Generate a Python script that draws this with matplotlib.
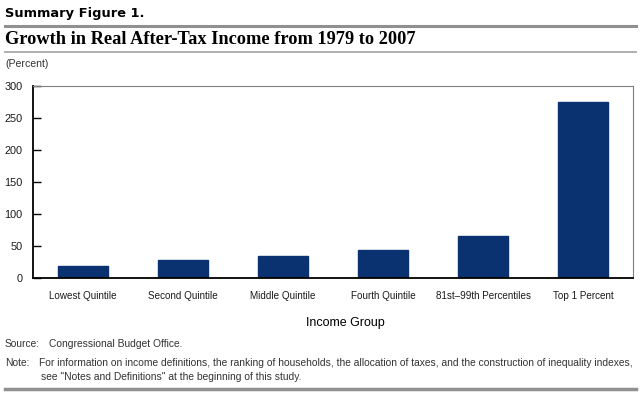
import matplotlib
matplotlib.use('Agg')
import matplotlib.pyplot as plt
from matplotlib.lines import Line2D

groups = ['Lowest Quintile', 'Second Quintile', 'Middle Quintile',
          'Fourth Quintile', '81st\u201399th Percentiles', 'Top 1 Percent']
growth = [18, 28, 35, 43, 65, 275]
yticks = [0, 50, 100, 150, 200, 250, 300]

sans = 'Liberation Sans'
grey_txt = '#333333'

fig = plt.figure(figsize=(6.4, 3.94), dpi=100)
W, H = 640, 394

def fx(px):
    return px / W

def fy(py):
    return 1 - py / H

# header
fig.text(fx(5), fy(14), 'Summary Figure 1.', fontsize=9.4, fontweight='bold',
         family='DejaVu Sans', va='center', ha='left')
fig.add_artist(Line2D([fx(5), fx(636)], [fy(26), fy(26)], color='#909090', lw=2.2))
fig.text(fx(5), fy(39), 'Growth in Real After-Tax Income from 1979 to 2007', fontsize=13.2,
         fontweight='bold', family='Liberation Serif', va='center', ha='left')
fig.add_artist(Line2D([fx(5), fx(636)], [fy(52), fy(52)], color='#a8a8a8', lw=1.3))
fig.text(fx(5), fy(64), '(Percent)', fontsize=7.6, family=sans, va='center', ha='left', color=grey_txt)

ax = fig.add_axes([fx(33), fy(278), fx(633) - fx(33), fy(86) - fy(278)])
x = range(len(groups))
ax.bar(x, growth, width=0.5, color='#0a3170', edgecolor='#0a3170')
ax.set_xlim(-0.5, 5.5)
ax.set_ylim(0, 300)
ax.set_yticks(yticks)
ax.set_xticks(list(x))
ax.set_xticklabels(groups, fontsize=7.1, family=sans, color='#1a1a1a')
ax.tick_params(axis='x', length=0, pad=9.5)
ax.tick_params(axis='y', direction='in', length=6, width=1, labelsize=7.8, pad=7.5, labelcolor='#1a1a1a')
for lab in ax.get_yticklabels():
    lab.set_family(sans)
ax.spines['left'].set_color('black')
ax.spines['bottom'].set_color('black')
ax.spines['left'].set_linewidth(1.3)
ax.spines['bottom'].set_linewidth(1.3)
ax.spines['top'].set_color('#808080')
ax.spines['right'].set_color('#808080')

fig.text(fx(345), fy(323), 'Income Group', fontsize=9, family=sans, va='center', ha='center')

# footer
fs = 7.35
fig.text(fx(5), fy(344), 'Source:', fontsize=fs, family=sans, va='center', ha='left', color=grey_txt)
fig.text(fx(49), fy(344), 'Congressional Budget Office.', fontsize=fs, family=sans, va='center', ha='left', color=grey_txt)
fig.text(fx(5), fy(363), 'Note:', fontsize=fs, family=sans, va='center', ha='left', color=grey_txt)
fig.text(fx(39), fy(363), 'For information on income definitions, the ranking of households, the allocation of taxes, '
         'and the construction of inequality indexes,', fontsize=fs, family=sans, va='center', ha='left', color=grey_txt)
fig.text(fx(41), fy(377), 'see "Notes and Definitions" at the beginning of this study.', fontsize=fs,
         family=sans, va='center', ha='left', color=grey_txt)
fig.add_artist(Line2D([fx(5), fx(636)], [fy(389), fy(389)], color='#909090', lw=2.5))

fig.savefig('out.png', dpi=100)
